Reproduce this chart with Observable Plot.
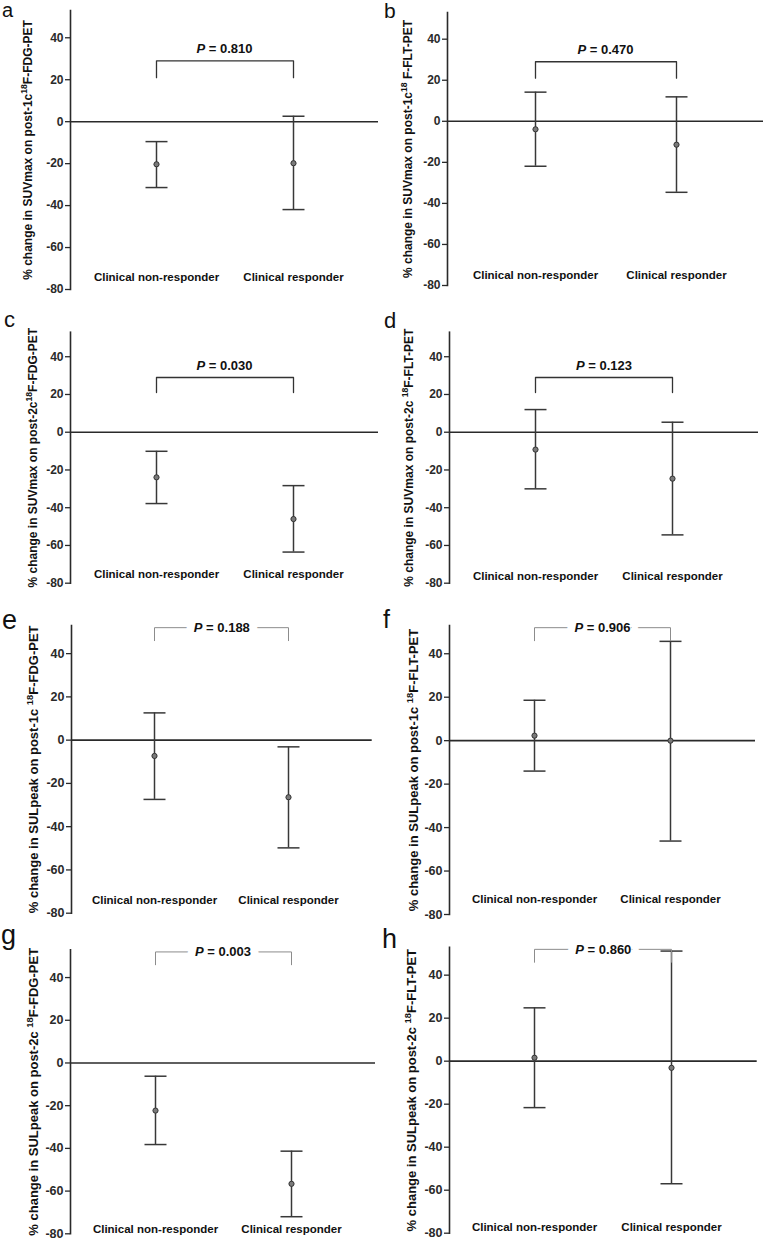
<!DOCTYPE html>
<html><head><meta charset="utf-8">
<script src="https://cdn.jsdelivr.net/npm/d3@7"></script>
<script src="https://cdn.jsdelivr.net/npm/@observablehq/plot@0.6"></script>
<style>
body{margin:0;background:#fff;}
#fig{position:relative;width:765px;height:1241px;background:#fff;overflow:hidden;font-family:"Liberation Sans",Arial,sans-serif;}
.panel{position:absolute;}
#letters{position:absolute;left:0;top:0;pointer-events:none;}
</style></head><body><div id="fig"></div>
<script>
// ---- data ----
const panelLetters = ["a","b","c","d","e","f","g","h"];
const groups = ["Clinical non-responder", "Clinical responder"];
const metric = ["SUVmax","SUVmax","SUVmax","SUVmax","SULpeak","SULpeak","SULpeak","SULpeak"];
const cycle = ["1c","1c","2c","2c","1c","1c","2c","2c"];
const tracer = ["FDG","FLT","FDG","FLT","FDG","FLT","FDG","FLT"];
const nrMean = [-20.3, -3.9, -23.9, -9.2, -7.3, 2.3, -22.3, 1.6];
const nrLow  = [-31.4, -21.9, -37.8, -30.0, -27.4, -14.0, -38.2, -21.6];
const nrHigh = [-9.5, 14.2, -10.1, 12.0, 12.6, 18.6, -6.2, 24.8];
const rMean  = [-19.8, -11.4, -46.0, -24.6, -26.4, 0.0, -56.6, -3.1];
const rLow   = [-41.9, -34.6, -63.5, -54.4, -49.8, -46.2, -72.0, -57.0];
const rHigh  = [2.6, 11.9, -28.3, 5.3, -3.1, 45.7, -41.3, 51.2];
const pValues = ["0.810","0.470","0.030","0.123","0.188","0.906","0.003","0.860"];
const yTicks = [-80, -60, -40, -20, 0, 20, 40];

// ---- layout (positions / styles) ----
const layout = [
  {left:0,   top:0,   w:380, h:300, ml:70, mr:2,   mt:10,   mb:11,  ldx:-42,   cdy:-12, tfs:12,   lfs:12, sb:"",  sa:"",  lx:2,   ly:17,   lsz:20},
  {left:380, top:0,   w:385, h:300, ml:67, mr:2,   mt:12,   mb:15,  ldx:-39,   cdy:-10, tfs:12,   lfs:12, sb:"",  sa:" ", lx:4,   ly:18,   lsz:21},
  {left:0,   top:300, w:380, h:300, ml:70, mr:2,   mt:31.7, mb:17.3,ldx:-37,   cdy:-8.7,tfs:12,   lfs:12, sb:"",  sa:"",  lx:4,   ly:27,   lsz:22},
  {left:380, top:300, w:385, h:300, ml:69, mr:7,   mt:31.7, mb:17.3,ldx:-40.7, cdy:-7,  tfs:12,   lfs:12, sb:" ", sa:"",  lx:4,   ly:28,   lsz:22},
  {left:0,   top:600, w:380, h:320, ml:71, mr:8.3, mt:25,   mb:7.3, ldx:-38,   cdy:-12.5,tfs:12.5,lfs:13, sb:" ", sa:"",  lx:2,   ly:29,   lsz:27},
  {left:380, top:600, w:385, h:320, ml:69, mr:10,  mt:25,   mb:6,   ldx:-36,   cdy:-15, tfs:12.5, lfs:13, sb:" ", sa:"",  lx:3,   ly:28,   lsz:25},
  {left:0,   top:920, w:380, h:321, ml:70, mr:5,   mt:29.3, mb:7.7, ldx:-37,   cdy:-4,  tfs:12.5, lfs:13, sb:" ", sa:"",  lx:1,   ly:24,   lsz:27},
  {left:380, top:920, w:385, h:321, ml:69, mr:8.3, mt:26.7, mb:8.3, ldx:-37.3, cdy:-6,  tfs:12.5, lfs:13, sb:" ", sa:"",  lx:2,   ly:28,   lsz:27}
];
const FONT = '"Liberation Sans", Arial, sans-serif';
const INK = "#2a2a2a";
const CAP_HALF = 11;
const capSymbol = {draw(context) { context.moveTo(-CAP_HALF, 0); context.lineTo(CAP_HALF, 0); }};

const fig = document.getElementById("fig");

panelLetters.forEach((letter, i) => {
  const L = layout[i];
  const rows = [
    {group: groups[0], mean: nrMean[i], lo: nrLow[i], hi: nrHigh[i]},
    {group: groups[1], mean: rMean[i], lo: rLow[i], hi: rHigh[i]}
  ];
  const solid = i < 4;
  const bTop = solid ? 29 : 52, bFoot = solid ? 21 : 46;
  const bracket = [
    {group: groups[0], y: bFoot}, {group: groups[0], y: bTop},
    {group: groups[1], y: bTop}, {group: groups[1], y: bFoot}
  ];
  const pre = `% change in ${metric[i]} on post-${cycle[i]}${L.sb}`;
  const post = `${L.sa}F-${tracer[i]}-PET`;
  const pText = `P = ${pValues[i]}`;
  const pOpts = {y: () => bTop, frameAnchor: "middle", text: d => d, dy: solid ? -12 : 0,
    lineAnchor: "middle", textAnchor: "middle", fontSize: 13, fontWeight: "bold"};

  const plot = Plot.plot({
    width: L.w, height: L.h,
    marginLeft: L.ml, marginRight: L.mr, marginTop: L.mt, marginBottom: L.mb,
    style: {fontFamily: FONT, background: "transparent", overflow: "visible", color: INK},
    x: {type: "point", domain: groups, padding: 0.62, axis: null},
    y: {domain: [-80, 53], axis: null},
    marks: [
      Plot.axisY({ticks: yTicks, tickSize: 5, tickPadding: 2, tickFormat: d => String(d),
        fontSize: L.tfs, fontWeight: "bold", label: null, color: INK, strokeWidth: 1.3}),
      Plot.frame({anchor: "left", stroke: INK, strokeWidth: 1.6}),
      Plot.ruleY([0], {stroke: INK, strokeWidth: 1.6}),
      Plot.ruleX(rows, {x: "group", y1: "lo", y2: "hi", stroke: "#383838", strokeWidth: 1.5}),
      Plot.dot(rows, {x: "group", y: "hi", symbol: capSymbol, fill: "none", stroke: "#383838", strokeWidth: 1.5}),
      Plot.dot(rows, {x: "group", y: "lo", symbol: capSymbol, fill: "none", stroke: "#383838", strokeWidth: 1.5}),
      Plot.dot(rows, {x: "group", y: "mean", r: 2.6, fill: "#7a7a7a", stroke: "#333", strokeWidth: 1}),
      Plot.line(bracket, {x: "group", y: "y", stroke: solid ? "#333" : "#8c8c8c", strokeWidth: solid ? 1.3 : 1}),
      solid ? null : Plot.text([pText], {...pOpts, fill: "white", stroke: "white", strokeWidth: 16}),
      Plot.text([pText], {...pOpts, fill: "#111"}),
      Plot.text(groups, {x: d => d, y: () => -80, text: d => d, dy: L.cdy, lineAnchor: "middle",
        fontSize: 11.5, fontWeight: "bold", fill: "#111"}),
      Plot.text([pre], {frameAnchor: "left", rotate: -90, dx: L.ldx, text: d => d, textAnchor: "middle",
        lineAnchor: "middle", fontSize: L.lfs, fontWeight: "bold", fill: "#111"})
    ]
  });

  // rich text: superscript 18 in the y label, italic P in the p-value
  d3.select(plot).selectAll("text").each(function() {
    const t = d3.select(this);
    const content = this.textContent;
    if (content === pre) {
      t.text(null);
      t.append("tspan").text(pre);
      t.append("tspan").attr("font-size", "0.72em").attr("dy", -5).text("18");
      t.append("tspan").attr("dy", 5).text(post);
    } else if (content === pText) {
      t.text(null);
      t.append("tspan").attr("font-style", "italic").text("P");
      t.append("tspan").text(pText.slice(1));
    }
  });

  const div = document.createElement("div");
  div.className = "panel";
  div.style.left = L.left + "px";
  div.style.top = L.top + "px";
  div.appendChild(plot);
  fig.appendChild(div);
});

// panel letters
const svgL = d3.select(fig).append("svg").attr("id", "letters").attr("width", 765).attr("height", 1241);
panelLetters.forEach((letter, i) => {
  const L = layout[i];
  svgL.append("text").attr("x", L.left + L.lx).attr("y", L.top + L.ly)
    .attr("font-family", FONT).attr("font-size", L.lsz).attr("fill", "#111").text(letter);
});
</script></body></html>
